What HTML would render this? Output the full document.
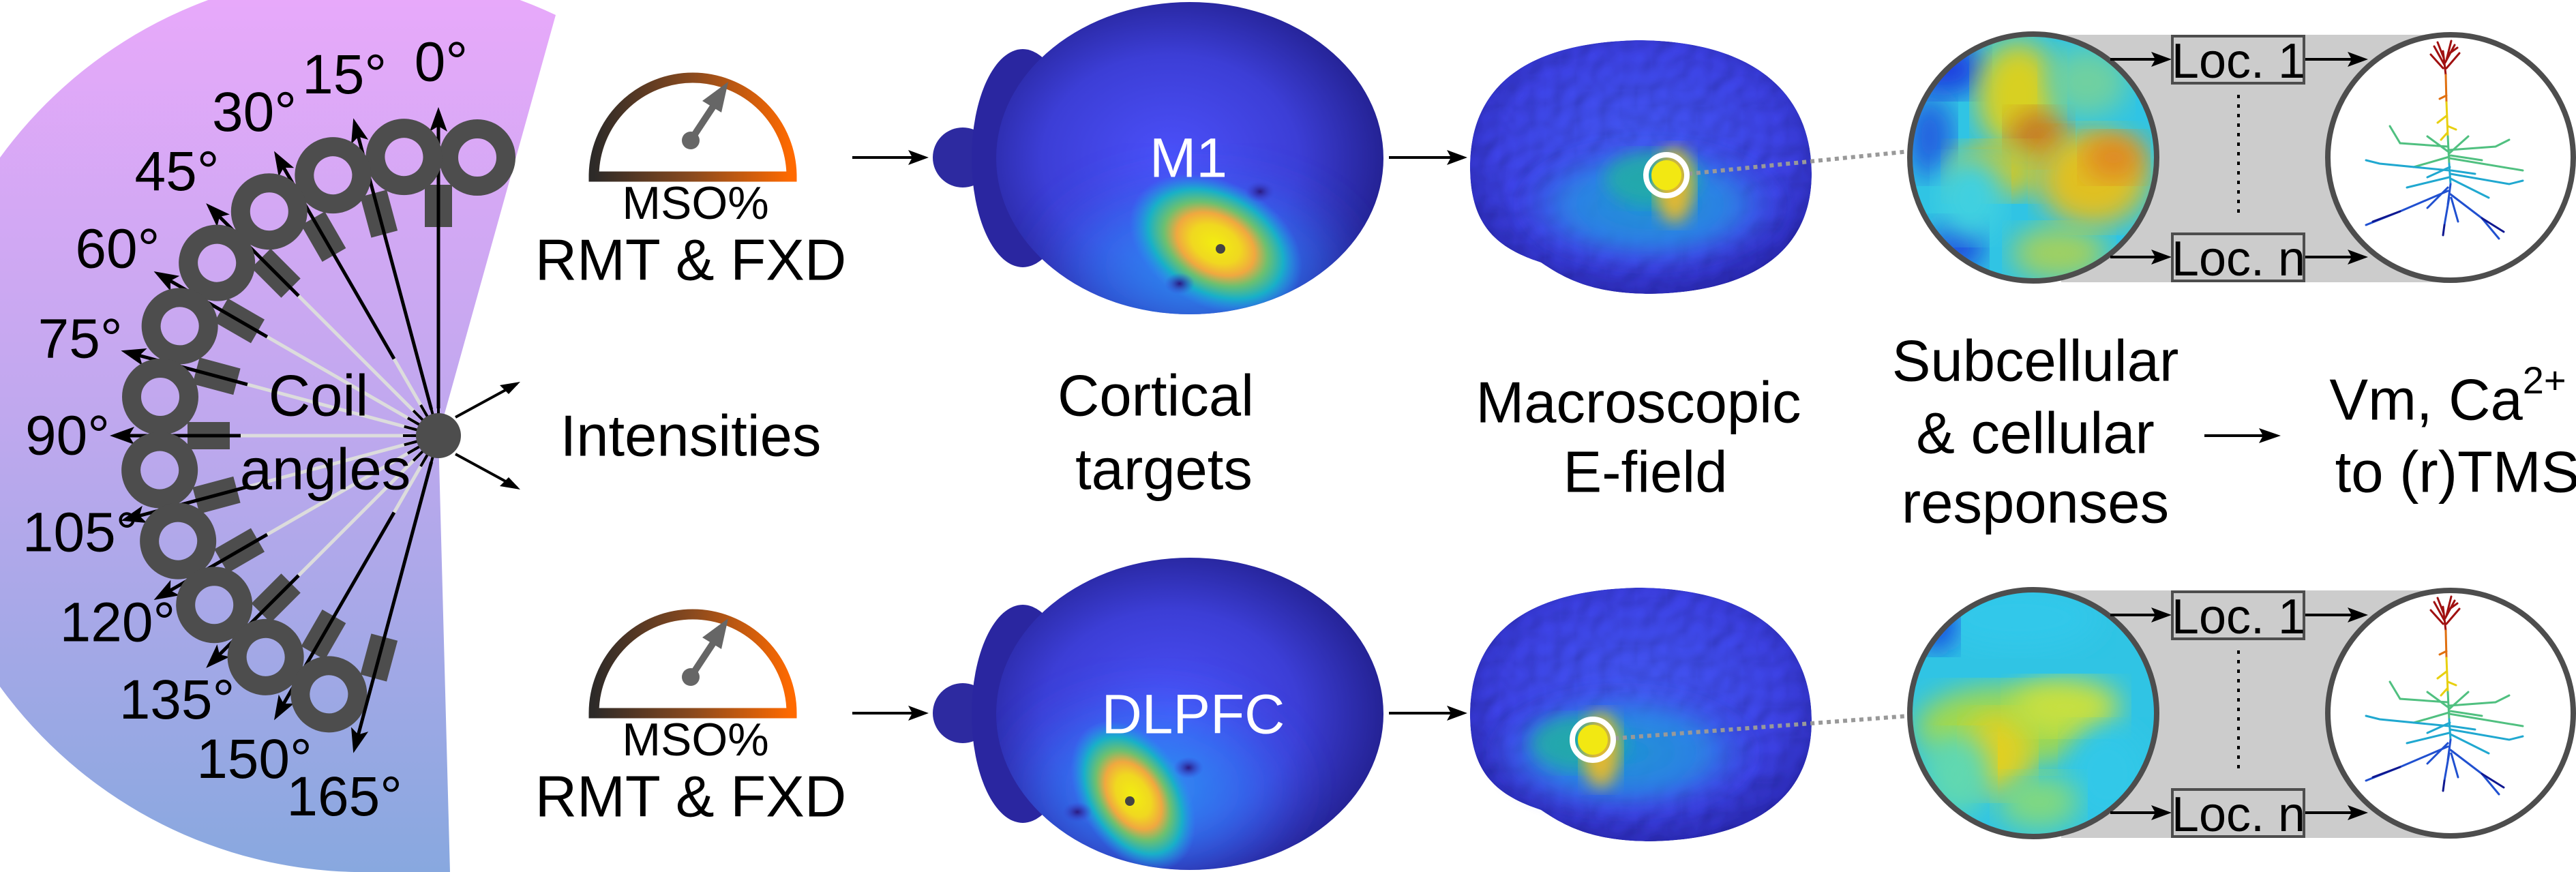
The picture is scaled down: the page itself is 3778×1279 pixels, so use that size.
<!DOCTYPE html>
<html><head><meta charset="utf-8"><style>
html,body{margin:0;padding:0;background:#fff}
svg{display:block}
text{font-family:"Liberation Sans",Arial,sans-serif;fill:#000}
</style></head><body>
<svg id="fig" width="3778" height="1279" viewBox="0 0 3778 1279" xmlns="http://www.w3.org/2000/svg">
<defs>
<linearGradient id="fanGrad" x1="0" y1="0" x2="0" y2="1">
<stop offset="0" stop-color="#eaa9fb"/><stop offset="0.5" stop-color="#bfa8ee"/><stop offset="1" stop-color="#88a8df"/>
</linearGradient>
<linearGradient id="gaugeGrad" x1="0" y1="0" x2="1" y2="0">
<stop offset="0" stop-color="#2d2a28"/><stop offset="0.5" stop-color="#8a4a1e"/><stop offset="1" stop-color="#ff6a00"/>
</linearGradient>
<radialGradient id="headGrad" cx="0.45" cy="0.5" r="0.6">
<stop offset="0" stop-color="#4b50fa"/><stop offset="0.55" stop-color="#3c3ed6"/><stop offset="1" stop-color="#1f1c86"/>
</radialGradient>
<radialGradient id="haloGrad" cx="0.5" cy="0.5" r="0.5">
<stop offset="0" stop-color="#2c9cf0"/><stop offset="0.6" stop-color="#2f7cf8" stop-opacity="0.6"/><stop offset="1" stop-color="#3a50f0" stop-opacity="0"/>
</radialGradient>
<radialGradient id="hotGrad" cx="0.5" cy="0.5" r="0.5">
<stop offset="0" stop-color="#f2ee10"/><stop offset="0.28" stop-color="#f0d820"/><stop offset="0.45" stop-color="#f0a840"/><stop offset="0.6" stop-color="#6cc070"/><stop offset="0.78" stop-color="#18b0c8"/><stop offset="1" stop-color="#2a90f0" stop-opacity="0"/>
</radialGradient>
<radialGradient id="brainGrad" cx="0.5" cy="0.45" r="0.6">
<stop offset="0" stop-color="#4258f0"/><stop offset="0.7" stop-color="#3b40e0"/><stop offset="1" stop-color="#2624a8"/>
</radialGradient>
<radialGradient id="bandGrad" cx="0.5" cy="0.5" r="0.5">
<stop offset="0" stop-color="#1aa0d0"/><stop offset="0.6" stop-color="#2a8ae6"/><stop offset="1" stop-color="#3a50e8" stop-opacity="0"/>
</radialGradient>
<radialGradient id="spotGrad" cx="0.5" cy="0.5" r="0.5">
<stop offset="0" stop-color="#2a1a80"/><stop offset="1" stop-color="#3a45d8" stop-opacity="0"/>
</radialGradient>
<filter id="gyri" x="-5%" y="-5%" width="110%" height="110%">
<feTurbulence type="fractalNoise" baseFrequency="0.045" numOctaves="1" seed="3" result="n"/>
<feDiffuseLighting in="n" surfaceScale="4" lighting-color="#fff" result="l"><feDistantLight azimuth="225" elevation="60"/></feDiffuseLighting>
<feComposite in="l" in2="SourceGraphic" operator="arithmetic" k1="1.1" k2="0" k3="0" k4="0" result="m"/>
<feComposite in="m" in2="SourceGraphic" operator="in"/>
</filter>
<filter id="blur12"><feGaussianBlur stdDeviation="12"/></filter>
<filter id="blur20"><feGaussianBlur stdDeviation="20"/></filter>
<filter id="blur30"><feGaussianBlur stdDeviation="30"/></filter>
<clipPath id="c1"><circle cx="2982" cy="231" r="178"/></clipPath>
<clipPath id="c2"><circle cx="2982" cy="1046" r="178"/></clipPath>
<clipPath id="headClip"><ellipse cx="1745" cy="232" rx="284" ry="229"/></clipPath>
</defs>

<path d="M815,22 L643,639 L660,1279 L520,1279 A660 660 0 1 1 815,22 Z" fill="url(#fanGrad)"/>
<g id="coils"></g>
<text x="467" y="581" font-size="85" text-anchor="middle" dominant-baseline="central">Coil</text>
<text x="477" y="689" font-size="85" text-anchor="middle" dominant-baseline="central">angles</text>

<g stroke="#000" stroke-width="4" fill="none">
<line x1="668" y1="612" x2="758" y2="563"/><line x1="668" y1="666" x2="758" y2="715"/>
</g>
<path d="M763,560 L733,565 L746,578 Z" fill="#000"/>
<path d="M763,718 L746,700 L733,713 Z" fill="#000"/>
<text x="1013" y="640" font-size="85" text-anchor="middle" dominant-baseline="central">Intensities</text>

<g id="gauges"></g>
<g id="heads"></g>

<text x="1695" y="581" font-size="85" text-anchor="middle" dominant-baseline="central">Cortical</text>
<text x="1707" y="689" font-size="85" text-anchor="middle" dominant-baseline="central">targets</text>
<text x="2403" y="591" font-size="85" text-anchor="middle" dominant-baseline="central">Macroscopic</text>
<text x="2413" y="693" font-size="85" text-anchor="middle" dominant-baseline="central">E-field</text>
<text x="2985" y="530" font-size="85" text-anchor="middle" dominant-baseline="central">Subcellular</text>
<text x="2985" y="636" font-size="85" text-anchor="middle" dominant-baseline="central">&amp; cellular</text>
<text x="2985" y="738" font-size="85" text-anchor="middle" dominant-baseline="central">responses</text>
<line x1="3233" y1="639" x2="3320" y2="639" stroke="#000" stroke-width="4"/>
<path d="M3345,639 L3313,628 L3319,639 L3313,650 Z" fill="#000"/>
<text x="3590" y="587" font-size="85" text-anchor="middle" dominant-baseline="central">Vm, Ca<tspan font-size="56" dy="-30">2+</tspan></text>
<text x="3604" y="693" font-size="85" text-anchor="middle" dominant-baseline="central">to (r)TMS</text>

<g id="panels"></g>
</svg>
<script>
const angles = [0,15,30,45,60,75,90,105,120,135,150,165];
const angleLabels = ["0°","15°","30°","45°","60°","75°","90°","105°","120°","135°","150°","165°"];
const rowOffsets = [0, 815];
const targetNames = ["M1","DLPFC"];

const NS = "http://www.w3.org/2000/svg";
function mk(tag, attrs, parent){const e=document.createElementNS(NS,tag);for(const k in attrs)e.setAttribute(k,attrs[k]);if(parent)parent.appendChild(e);return e;}
const CX=643, CY=639;
const coils=document.getElementById('coils');
angles.forEach((a,i)=>{
  const g=mk('g',{transform:`rotate(${-a} ${CX} ${CY})`},coils);
  
  
  const full = (a<=15||a>=165);
  const mid = (a===30||a===150);
  const rs = full?40:(mid?130:290);
  mk('line',{x1:CX,y1:CY-40,x2:CX,y2:CY-rs,stroke:'#dcdcdc','stroke-width':5},g);
  mk('line',{x1:CX,y1:CY-32,x2:CX,y2:CY-52,stroke:'#000','stroke-width':4},g);
});
angles.forEach((a,i)=>{
  const g=mk('g',{transform:`rotate(${-a} ${CX} ${CY})`},coils);
  const full = (a<=15||a>=165);
  const mid = (a===30||a===150);
  const rs = full?40:(mid?130:290);
  mk('circle',{cx:CX+57,cy:CY-408,r:42,fill:'none',stroke:'#4d4d4d','stroke-width':28},g);
  mk('rect',{x:CX-20,y:CY-368,width:40,height:62,fill:'#4d4d4d'},g);
  mk('line',{x1:CX,y1:CY-rs,x2:CX,y2:CY-455,stroke:'#000','stroke-width':5},g);
  mk('path',{d:`M${CX},${CY-482} L${CX-13},${CY-446} L${CX},${CY-454} L${CX+13},${CY-446} Z`,fill:'#000'},g);
});
angles.forEach((a,i)=>{
  const r=548, t=a*Math.PI/180;
  const tx=mk('text',{x:CX-r*Math.sin(t)+4,y:CY-r*Math.cos(t),'font-size':82,'text-anchor':'middle','dominant-baseline':'central'},coils);
  
  
  tx.textContent=angleLabels[i];
});
mk('circle',{cx:CX,cy:CY,r:33,fill:'#4d4d4d'},coils);

const gauges=document.getElementById('gauges');
[0,787].forEach((dy,k)=>{
  const g=mk('g',{transform:`translate(0 ${dy})`},gauges);
  
  
  mk('path',{d:'M871,259 A145 145 0 0 1 1161,259 Z',fill:'#fff',stroke:'url(#gaugeGrad)','stroke-width':15},g);
  mk('line',{x1:1013,y1:206,x2:1050,y2:150,stroke:'#666','stroke-width':10},g);
  mk('path',{d:'M1068,120 L1030,148 L1058,165 Z',fill:'#666'},g);
  mk('circle',{cx:1013,cy:206,r:13,fill:'#666'},g);
  const t1=mk('text',{x:1020,y:298,'font-size':68,'text-anchor':'middle','dominant-baseline':'central'},g);
  t1.textContent='MSO%';
  const t2=mk('text',{x:1013,y:382,'font-size':85,'text-anchor':'middle','dominant-baseline':'central'},g);
  t2.textContent='RMT & FXD';
});

const heads=document.getElementById('heads');
rowOffsets.forEach((dy,k)=>{
  const g=mk('g',{transform:`translate(0 ${dy})`},heads);
  
  
  mk('line',{x1:1250,y1:231,x2:1340,y2:231,stroke:'#000','stroke-width':4},g);
  mk('path',{d:'M1362,231 L1332,220 L1338,231 L1332,242 Z',fill:'#000'},g);
  mk('line',{x1:2037,y1:231,x2:2130,y2:231,stroke:'#000','stroke-width':4},g);
  mk('path',{d:'M2152,231 L2122,220 L2128,231 L2122,242 Z',fill:'#000'},g);
  const head=mk('g',{},g);
  
  
  mk('ellipse',{cx:1412,cy:231,rx:44,ry:44,fill:'#2d2aa0'},head);
  mk('ellipse',{cx:1500,cy:232,rx:75,ry:160,fill:'#2a26a0'},head);
  mk('ellipse',{cx:1745,cy:232,rx:284,ry:229,fill:'url(#headGrad)'},head);
  const hc=mk('g',{'clip-path':'url(#headClip)'},head);
  if(k===0){
    mk('ellipse',{cx:1760,cy:390,rx:260,ry:150,fill:'url(#haloGrad)',filter:'url(#blur30)'},hc);
    mk('ellipse',{cx:1783,cy:358,rx:135,ry:92,fill:'url(#hotGrad)',transform:'rotate(28 1783 358)'},hc);
    mk('ellipse',{cx:1848,cy:281,rx:22,ry:16,fill:'url(#spotGrad)'},hc);
    mk('ellipse',{cx:1730,cy:416,rx:22,ry:16,fill:'url(#spotGrad)'},hc);
    mk('circle',{cx:1790,cy:365,r:7,fill:'#444'},head);
    const t=mk('text',{x:1743,y:232,'font-size':82,'text-anchor':'middle','dominant-baseline':'central',style:'fill:#fff'},head);
    
    
    t.textContent=targetNames[0];
  } else {
    mk('ellipse',{cx:1690,cy:340,rx:240,ry:160,fill:'url(#haloGrad)',filter:'url(#blur30)'},hc);
    mk('ellipse',{cx:1662,cy:352,rx:120,ry:78,fill:'url(#hotGrad)',transform:'rotate(58 1662 352)'},hc);
    mk('ellipse',{cx:1743,cy:311,rx:22,ry:16,fill:'url(#spotGrad)'},hc);
    mk('ellipse',{cx:1580,cy:376,rx:22,ry:15,fill:'url(#spotGrad)'},hc);
    mk('circle',{cx:1657,cy:360,r:7,fill:'#444'},head);
    const t=mk('text',{x:1750,y:233,'font-size':82,'text-anchor':'middle','dominant-baseline':'central',style:'fill:#fff'},head);
    
    
    t.textContent=targetNames[1];
  }
  const b=mk('g',{},g);
  
  
  const by = k===0?245:233;
  const bg=mk('g',{filter:'url(#gyri)'},b);
  const bpath=`M2156,${by} C2156,${by-120} 2240,${by-182} 2400,${by-186} C2570,${by-186} 2657,${by-110} 2657,${by+10} C2657,${by+130} 2560,${by+184} 2420,${by+186} C2330,${by+186} 2290,${by+160} 2260,${by+140} C2200,${by+120} 2156,${by+90} 2156,${by} Z`;
  mk('path',{d:bpath,fill:'url(#brainGrad)'},bg);
  const hx = k===0?2444:2336, hy = k===0?257:270;
  const ov=mk('g',{},b);
  mk('ellipse',{cx:(k===0?2420:2380),cy:by+55,rx:200,ry:95,fill:'url(#bandGrad)',filter:'url(#blur12)',opacity:0.85},ov);
  mk('ellipse',{cx:hx-20,cy:hy+5,rx:70,ry:40,fill:'#20b0a0',filter:'url(#blur12)',opacity:0.8},ov);
  mk('ellipse',{cx:hx+12,cy:hy+15,rx:28,ry:55,fill:'#e0b830',filter:'url(#blur12)'},ov);
  mk('circle',{cx:hx,cy:hy,r:22,fill:'#f2e812'},ov);
  mk('line',{x1:hx+32,y1:hy-2,x2:2800,y2:hy-35,stroke:'#999','stroke-width':6,'stroke-dasharray':'6 6'},b);
  mk('circle',{cx:hx,cy:hy,r:30,fill:'none',stroke:'#fff','stroke-width':8},b);
});

const panels=document.getElementById('panels');
rowOffsets.forEach((dy,k)=>{
  const g=mk('g',{transform:`translate(0 ${dy})`},panels);
  
  
  mk('rect',{x:3023,y:51,width:571,height:363,fill:'#cccccc'},g);
  const mc=mk('g',{'clip-path':`url(#c${k+1})`,transform:`translate(0 ${-dy})`},g);
  const cy0=231+dy;
  mk('rect',{x:2800,y:cy0-181,width:364,height:362,fill:'#30c4e4'},mc);
  const blobs = k===0 ? [
    [2850,cy0-130,60,40,'#1a40e0'],[2830,cy0-30,35,60,'#2060e0'],[2870,cy0+130,40,40,'#1a50e0'],
    [2960,cy0-90,60,80,'#d8d020'],[2990,cy0-30,45,40,'#c87a20'],[2930,cy0+20,70,40,'#c8c830'],
    [3070,cy0+30,80,70,'#e0c020'],[3100,cy0+0,45,35,'#e08820'],[2890,cy0+60,50,60,'#40d0e0'],
    [3060,cy0-110,60,50,'#70d0a0'],[3020,cy0+140,70,40,'#a0d060']
  ] : [
    [2960,cy0-140,120,50,'#30c8ea'],[2840,cy0-130,30,40,'#1840e0'],[2940,cy0+20,130,60,'#a0d850'],[2930,cy0+60,50,60,'#e0d020'],
    [3030,cy0-10,80,40,'#c8e040'],[2870,cy0+90,50,60,'#60d8b0'],[3090,cy0+90,60,70,'#30c8e8'],[2990,cy0+130,60,40,'#80d880']
  ];
  blobs.forEach(p=>mk('ellipse',{cx:p[0],cy:p[1],rx:p[2],ry:p[3],fill:p[4],filter:'url(#blur20)'},mc));
  mk('circle',{cx:2982,cy:231,r:181,fill:'none',stroke:'#4d4d4d','stroke-width':8},g);
  mk('circle',{cx:3594,cy:231,r:180,fill:'#fff',stroke:'#4d4d4d','stroke-width':8},g);
  [[53,'Loc. 1'],[343,'Loc. n']].forEach(([y,lab],j)=>{
    const ay=y+34;
    mk('line',{x1:3095,y1:ay,x2:3165,y2:ay,stroke:'#000','stroke-width':4},g);
    mk('path',{d:`M3185,${ay} L3155,${ay-11} L3161,${ay} L3155,${ay+11} Z`,fill:'#000'},g);
    mk('line',{x1:3379,y1:ay,x2:3450,y2:ay,stroke:'#000','stroke-width':4},g);
    mk('path',{d:`M3473,${ay} L3443,${ay-11} L3449,${ay} L3443,${ay+11} Z`,fill:'#000'},g);
    const r=mk('rect',{x:3186,y:y,width:193,height:69,fill:'#cccccc',stroke:'#4d4d4d','stroke-width':4},g);
    
    
    const t=mk('text',{x:3283,y:y+37,'font-size':72,'text-anchor':'middle','dominant-baseline':'central'},g);
    t.textContent=lab;
  });
  mk('line',{x1:3283,y1:139,x2:3283,y2:318,stroke:'#000','stroke-width':4,'stroke-dasharray':'5 9'},g);
  const n=mk('g',{fill:'none','stroke-width':3,'stroke-linecap':'round'},g);
  
  
  const segs=[
    ['#a01010','M3587,110 L3583,75 M3585,95 L3570,68 M3586,92 L3600,66 M3584,85 L3575,62 M3588,88 L3595,60 M3583,100 L3565,80 M3588,100 L3607,78 M3590,80 L3604,70'],
    ['#e07010','M3587,110 L3588,150 M3588,140 L3578,145'],
    ['#e8d010','M3588,150 L3590,200 M3588,170 L3575,180 M3590,185 L3602,190 M3589,195 L3580,205'],
    ['#50c080','M3590,200 L3592,240 M3590,215 L3520,210 L3505,185 M3592,220 L3660,215 L3680,205 M3592,230 L3540,245 M3592,232 L3700,250 M3592,225 L3620,200 M3590,222 L3560,200 M3594,228 L3640,235'],
    ['#20a8d0','M3592,240 L3594,270 M3592,250 L3490,240 L3470,235 M3594,255 L3680,270 L3700,265 M3592,260 L3530,275 M3594,262 L3650,290 M3593,245 L3560,260 M3595,250 L3630,255'],
    ['#2050d0','M3594,270 L3590,300 M3590,280 L3520,310 L3470,330 M3594,285 L3640,320 L3665,350 M3592,290 L3585,330 M3595,290 L3605,325 M3590,275 L3560,305'],
    ['#101890','M3520,310 L3480,325 M3640,320 L3672,340 M3585,330 L3583,345']
  ];
  segs.forEach(s=>mk('path',{d:s[1],stroke:s[0]},n));
});
</script>
</body></html>
